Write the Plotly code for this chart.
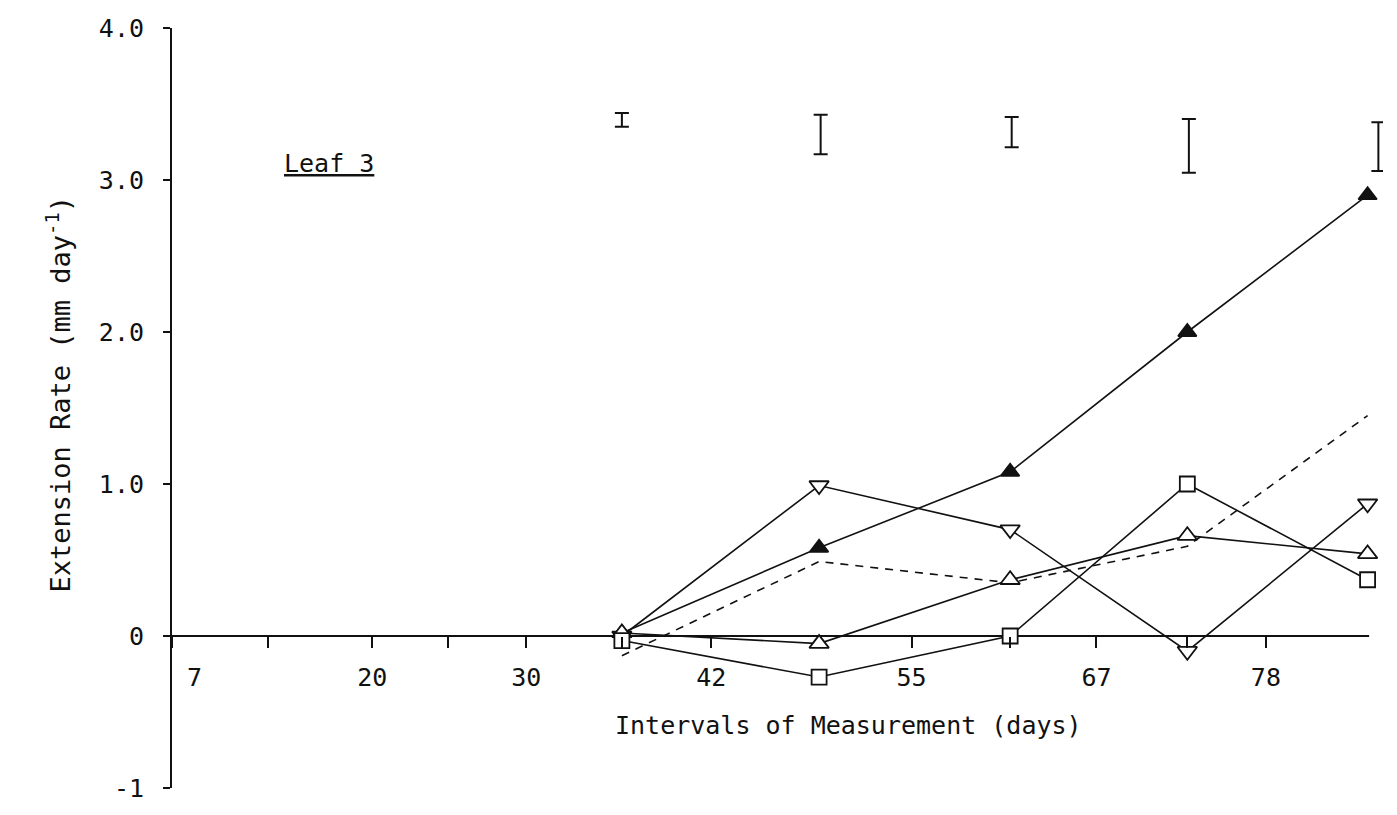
import plotly.graph_objects as go

# ---- data ----
days = [36.2, 49.0, 61.4, 72.9, 84.6]
filled_up = [0.02, 0.58, 1.08, 2.00, 2.90]
open_down = [0.00, 0.99, 0.70, -0.10, 0.87]
open_up = [0.02, -0.05, 0.37, 0.66, 0.54]
open_square = [-0.03, -0.27, 0.00, 1.00, 0.37]
dashed = [-0.13, 0.49, 0.35, 0.59, 1.45]

err_days = [36.2, 49.1, 61.5, 73.0, 85.3]
err_center = [3.395, 3.30, 3.315, 3.225, 3.22]
err_half = [0.045, 0.13, 0.10, 0.177, 0.16]

x_tickvals = [7, 20, 30, 42, 55, 67, 78]
x_ticktext = ["\u00a0\u00a0\u00a07", "20", "30", "42", "55", "67", "78"]
x_minor_ticks = [13.2, 24.9, 36.2, 61.4, 72.9]
x_axis_end = 84.7
y_tickvals = [-1, 0, 1, 2, 3, 4]
y_ticktext = ["-1", "0", "1.0", "2.0", "3.0", "4.0"]

FONT = "DejaVu Sans Mono"
BLACK = "#111111"

fig = go.Figure()

# x axis line drawn at y = 0 (axis ends before the last error bar)
fig.add_shape(type="line", xref="x", yref="y", x0=x_tickvals[0], x1=x_axis_end,
              y0=0, y1=0, line=dict(color=BLACK, width=2), layer="below")

fig.add_trace(go.Scatter(x=days, y=dashed, mode="lines",
                         line=dict(color=BLACK, width=1.6, dash="8px,7px"),
                         cliponaxis=False, showlegend=False))

series = [
    (filled_up, "triangle-up", BLACK, 16),
    (open_down, "triangle-down", "white", 17),
    (open_up, "triangle-up", "white", 17),
    (open_square, "square", "white", 15),
]
for vals, sym, fill, size in series:
    fig.add_trace(go.Scatter(
        x=days, y=vals, mode="lines+markers",
        line=dict(color=BLACK, width=1.6),
        marker=dict(symbol=sym, size=size, color=fill,
                    line=dict(color=BLACK, width=1.8)),
        cliponaxis=False, showlegend=False))

fig.add_trace(go.Scatter(
    x=err_days, y=err_center, mode="markers",
    marker=dict(size=0.1, color="rgba(0,0,0,0)"),
    error_y=dict(type="data", array=err_half, symmetric=True,
                 color=BLACK, thickness=2, width=7),
    cliponaxis=False, showlegend=False))

fig.add_annotation(x=17.2, y=3.11, xref="x", yref="y", text="<u>Leaf 3</u>",
                   showarrow=False, font=dict(family=FONT, size=25, color=BLACK))
fig.add_annotation(x=50.9, y=-0.59, xref="x", yref="y",
                   text="Intervals of Measurement (days)",
                   showarrow=False, font=dict(family=FONT, size=25, color=BLACK))
fig.add_annotation(x=-0.11, y=1.59, xref="paper", yref="y",
                   text="Extension Rate (mm day<sup>-1</sup>)", textangle=-90,
                   showarrow=False, font=dict(family=FONT, size=27, color=BLACK))

fig.update_layout(
    width=1397, height=815,
    margin=dict(l=172, r=14, t=28, b=25),
    paper_bgcolor="white", plot_bgcolor="white",
    font=dict(family=FONT, size=25, color=BLACK),
    xaxis=dict(range=[7, 85.6], anchor="free", position=0.2,
               showline=False,
               ticks="outside", ticklen=11, tickwidth=1.5, tickcolor=BLACK,
               tickvals=x_tickvals, ticktext=x_ticktext,
               minor=dict(tickvals=x_minor_ticks, ticks="outside", ticklen=11,
                          tickwidth=1.5, tickcolor=BLACK, showgrid=False),
               ticklabelstandoff=8,
               showgrid=False, zeroline=False),
    yaxis=dict(range=[-1, 4], showline=True, linecolor=BLACK, linewidth=2,
               ticks="outside", ticklen=7, tickwidth=2, tickcolor=BLACK,
               tickvals=y_tickvals, ticktext=y_ticktext,
               ticklabelstandoff=14,
               showgrid=False, zeroline=False),
)

fig.write_html("out.html")
